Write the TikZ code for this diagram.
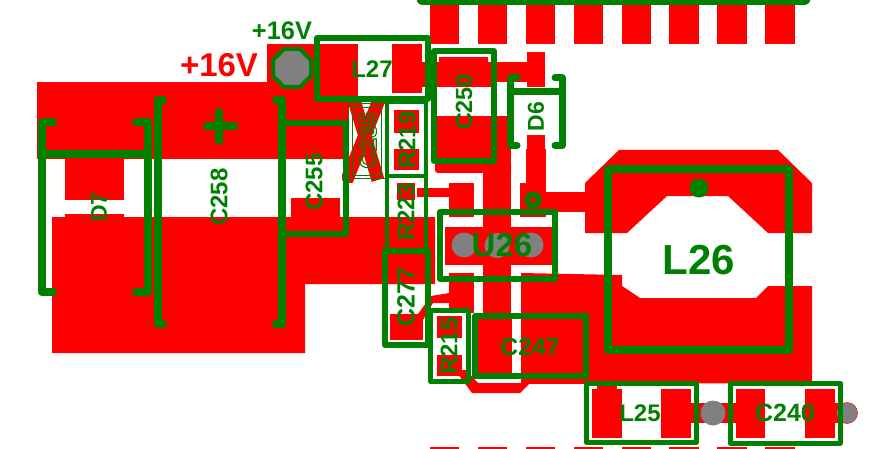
\documentclass[tikz,border=0pt]{standalone}
\usepackage{fontspec}
\setmainfont{Liberation Sans}
\definecolor{padred}{RGB}{255,0,0}
\definecolor{silk}{RGB}{0,128,0}
\definecolor{viagray}{RGB}{128,128,128}
\tikzset{
	copper/.style={fill=padred, draw=none},
	silkline/.style={draw=silk, line width=#1, line join=round},
	silkline/.default=6pt,
	bracket/.style={draw=silk, line width=8pt, line cap=round, line join=round},
	via/.style={circle, fill=viagray, minimum size=#1, inner sep=0pt},
	ref/.style={text=silk, font=\bfseries\fontsize{#1}{#1}\selectfont, inner sep=0pt},
	ref/.default=24,
	refv/.style={ref=#1, rotate=90},
	refv/.default=24
}
\begin{document}
\begin{tikzpicture}[x=1pt,y=-1pt]
	\useasboundingbox (0,0) rectangle (885,449);
	\clip (0,0) rectangle (885,449);
	\fill[white] (0,0) rectangle (885,449);
	% connector fingers, top and bottom edge
	\foreach \px/\pw in {430/29,478/29,526/29,574/29,622/29,669/30,717/30,765/30} {
		\fill[copper] (\px,0) rectangle ++(\pw,44);
	}
	\foreach \px/\pw in {430/29,478/29,526/29,574/29,622/29,669/30,717/30,765/30} {
		\fill[copper] (\px,447) rectangle ++(\pw,2);
	}
	% input copper
	\fill[copper] (37,82) rectangle (348,159);
	\fill[copper] (267,44) rectangle (358,98);
	\fill[copper] (65,159) rectangle (124,200);
	\fill[copper] (65,214) rectangle (124,218);
	\fill[copper] (291,198) rectangle (340,218);
	\fill[copper] (52,217) -- (435,217) -- (435,284) -- (305,284) -- (305,353) -- (52,353) -- cycle;
	% L27, C250, D6
	\fill[copper] (392,44) rectangle (422,93);
	\fill[copper] (422,62) rectangle (436,87);
	\fill[copper] (439,57) rectangle (488,63);
	\fill[copper] (436,62) rectangle (491,87);
	\fill[copper] (491,62) rectangle (527,82);
	\fill[copper] (527,52) rectangle (545,87);
	\fill[copper] (436,116) rectangle (491,165);
	\fill[copper, rounded corners=3pt] (435,160) rectangle (511,173);
	\fill[copper] (483,165) rectangle (511,313);
	\fill[copper] (491,116) rectangle (511,170);
	\fill[copper] (527,135) rectangle (545,150);
	\fill[copper] (526,149) rectangle (546,190);
	% R219, X part, R223
	\fill[copper] (394,110) rectangle (419,133);
	\fill[copper] (394,149) rectangle (419,170);
	\fill[copper] (397,183) rectangle (415,200);
	\begin{scope}
		\clip (342,103) rectangle (385,182);
		\draw[padred, line width=13pt] (354,100) -- (378,180);
		\draw[padred, line width=13pt] (379,100) -- (346,182);
	\end{scope}
	% U26
	\fill[copper] (417,188) rectangle (449,197);
	\fill[copper] (449,183) rectangle (474,217);
	\fill[copper] (520,183) rectangle (546,217);
	\fill[copper] (546,192) rectangle (585,212);
	\fill[copper] (445,227) rectangle (552,265);
	\fill[copper] (449,273) rectangle (474,313);
	% C277, R215, C247
	\fill[copper] (390,314) rectangle (423,340);
	\fill[copper] (418,314) -- (431,296) -- (449,293) -- (449,303) -- (433,303) -- (423,320) -- cycle;
	\fill[copper] (437,316) rectangle (462,338);
	\fill[copper] (437,355) rectangle (462,376);
	\fill[copper] (477,313) rectangle (512,376);
	\fill[copper] (521,313) rectangle (584,380);
	\fill[copper] (455,370) -- (472,393) -- (520,393) -- (530,383) -- (478,383) -- (466,370) -- cycle;
	% L26 copper
	\fill[copper] (619,150) -- (778,150) -- (812,183) -- (812,233) -- (768,233) -- (728,196) -- (667,196) -- (627,233) -- (585,233) -- (585,183) -- cycle;
	\fill[copper] (521,273) -- (622,275) -- (622,286) -- (640,298) -- (756,298) -- (768,286) -- (812,286) -- (812,383) -- (521,384) -- cycle;
	% L25, C240
	\fill[copper] (592,389) rectangle (622,438);
	\fill[copper] (597,385) rectangle (617,389);
	\fill[copper] (661,389) rectangle (691,438);
	\fill[copper] (691,403) rectangle (736,423);
	\fill[copper] (736,389) rectangle (765,438);
	\fill[copper] (805,389) rectangle (835,438);
	\fill[copper] (835,403) rectangle (847,423);
	% vias
	\node (V1) at (464,245) [via=25pt] {};
	\node (V2) at (497,245.5) [via=25pt] {};
	\node (V3) at (531,245) [via=25pt] {};
	\node (V4) at (713,413) [via=25pt] {};
	\node (V5) at (847,413) [via=21pt, draw=padred, line width=.5pt] {};
	\draw[silkline=4pt, fill=viagray] (273,60) -- (284,49) -- (300,49) -- (311,60) -- (311,76) -- (300,87) -- (284,87) -- (273,76) -- cycle;
	% silk outlines
	\draw[silk, line width=13pt, line cap=round] (423,-1) -- (804,-1);
	\draw[silkline] (317,38) rectangle (428,99);
	\draw[silkline] (434,51) rectangle (494,161);
	\draw[silkline=4.5pt] (387,102) rectangle (426,176);
	\draw[silkline=4.5pt] (387,176) rectangle (426,250);
	\draw[silkline] (385,251) rectangle (428,345);
	\draw[silkline=5pt] (430,310) rectangle (468.5,381);
	\draw[silkline=6.5pt] (440,212) rectangle (555,279);
	\draw[silkline=5.5pt] (475,316) rectangle (586,376);
	\draw[silkline=8pt] (608,169) rectangle (789,350);
	\draw[silkline=5pt] (586,383) rectangle (696,442);
	\draw[silkline=5pt] (730,383) rectangle (840,443);
	% X part outlines
	\draw[silk, line width=.8pt] (348,103) rectangle (385,178);
	\draw[silk, line width=.8pt] (352,107) rectangle (381,175);
	% brackets
	\draw[bracket] (53,122.5) -- (41.5,122.5) -- (41.5,292) -- (53,292);
	\draw[bracket] (136,122.5) -- (147.5,122.5) -- (147.5,292) -- (136,292);
	\draw[bracket] (41.5,154.5) -- (147.5,154.5);
	\draw[bracket] (163,100) -- (157.5,100) -- (157.5,324) -- (163,324);
	\draw[bracket] (276,100) -- (281.5,100) -- (281.5,324) -- (276,324);
	\draw[silkline] (281,123) -- (346,123) -- (346,234) -- (281,234);
	\draw[bracket, line width=7pt] (517,78) -- (510,78) -- (510,145.5) -- (517,145.5);
	\draw[bracket, line width=7pt] (555,78) -- (562,78) -- (562,145.5) -- (555,145.5);
	\draw[silkline=7pt] (510,91.5) -- (562,91.5);
	\draw[bracket, line width=8.5pt] (207,126) -- (234,126);
	\draw[bracket, line width=8.5pt] (219,112) -- (219,141);
	\node (dotL26) at (699,188) [circle, fill=silk, minimum size=19pt, inner sep=0pt] {};
	\node (pinU26) at (533,200) [circle, draw=silk, fill=padred, line width=5.5pt, minimum size=11.5pt, inner sep=0pt] {};
	% labels
	\node (netA) at (282,31) [ref=25.4] {+16V};
	\node (netB) at (219,65) [ref=33, text=padred] {+16V};
	\node (L27) at (372,69) [ref] {L27};
	\node (C250) at (464,102) [refv=23.4] {C250};
	\node (D6) at (536,116.5) [refv=23] {D6};
	\node (R219) at (407,140) [refv] {R219};
	\node (R223) at (406,212) [refv] {R223};
	\node (C277) at (406,297) [refv=25] {C277};
	\node (R215) at (449,346) [refv] {R215};
	\node (C247) at (530,347) [ref=24.7] {C247};
	\node (L25) at (640,413) [ref] {L25};
	\node (C240) at (785,413) [ref=25] {C240};
	\node (U26) at (502,245) [ref=33] {U26};
	\node (L26) at (699,260) [ref=42] {L26};
	\node (C255) at (314,182) [refv] {C255};
	\node (C258) at (219,197) [refv] {C258};
	\node (D7) at (99,207) [refv=23] {D7};
	\node (C235) at (368,140) [refv] {\special{pdf:code 1 Tr 1.1 w}C235\special{pdf:code 0 Tr}};
\end{tikzpicture}
\end{document}
